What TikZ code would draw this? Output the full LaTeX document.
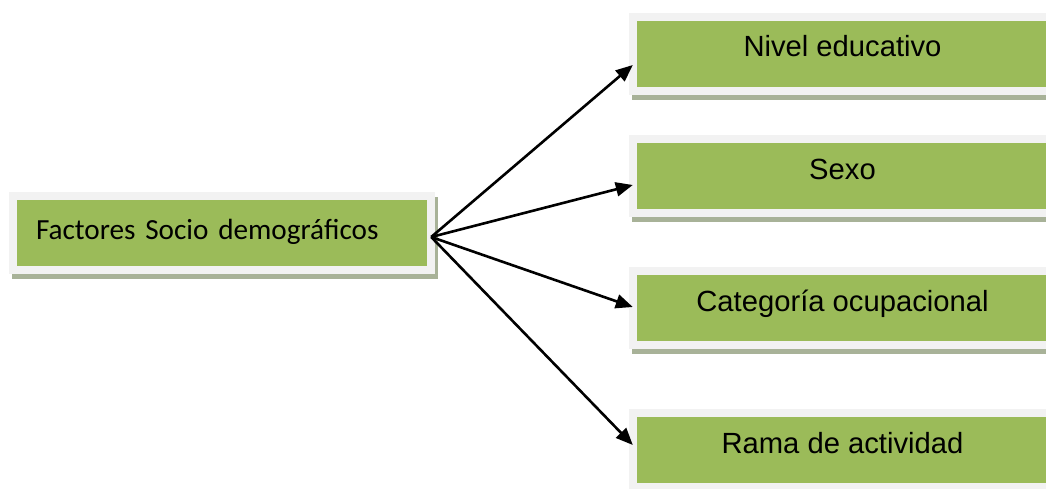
\documentclass[tikz,border=0pt]{standalone}
\usepackage{fontspec}
\setmainfont{Liberation Sans}
\newfontfamily\carlito{Carlito}
\usetikzlibrary{arrows.meta,shadows,calc}
\definecolor{boxgreen}{HTML}{9BBB59}
\definecolor{framegray}{HTML}{F2F2F2}
\definecolor{shadowc}{HTML}{A8B298}
\tikzset{
  framebox/.style={fill=framegray, inner ysep=0pt, minimum height=82pt,
    drop shadow={shadow xshift=3pt, shadow yshift=-5pt, fill=shadowc, opacity=1},
    path picture={\fill[boxgreen] ([shift={(8pt,-8pt)}]path picture bounding box.north west) rectangle ([shift={(-8pt,8pt)}]path picture bounding box.south east);}},
  rbox/.style={framebox, minimum width=427pt, inner xsep=0pt, text height=10pt, text depth=4pt,
    font=\fontsize{29.2}{34}\selectfont},
  lbox/.style={framebox, text width=372pt, inner xsep=27pt, align=left, text height=14pt, text depth=2pt,
    font=\carlito\fontsize{29.2}{34}\selectfont},
  arr/.style={line width=2.6pt, -{Triangle[length=17pt,width=14pt]}}
}
\begin{document}
\begin{tikzpicture}[x=1pt,y=-1pt]
\useasboundingbox (0,0) rectangle (1046,489);
\clip (0,0) rectangle (1046,489);
\node[lbox] (src) at (222,233) {Factores Socio demográficos};
\node[rbox] (nivel) at (842.5,54) {Nivel educativo};
\node[rbox] (sexo) at (842.5,176) {Sexo};
\node[rbox] (cat) at (842.5,308) {Categoría ocupacional};
\node[rbox] (rama) at (842.5,450) {Rama de actividad};
\coordinate (hub) at ([shift={(-4pt,-4pt)}]src.east);
\draw[arr] (hub) -- ([shift={(4pt,-11pt)}]nivel.west);
\draw[arr] (hub) -- ([shift={(4pt,-9pt)}]sexo.west);
\draw[arr] (hub) -- ([shift={(4pt,1pt)}]cat.west);
\draw[arr] (hub) -- ([shift={(4pt,5pt)}]rama.west);
\end{tikzpicture}
\end{document}
